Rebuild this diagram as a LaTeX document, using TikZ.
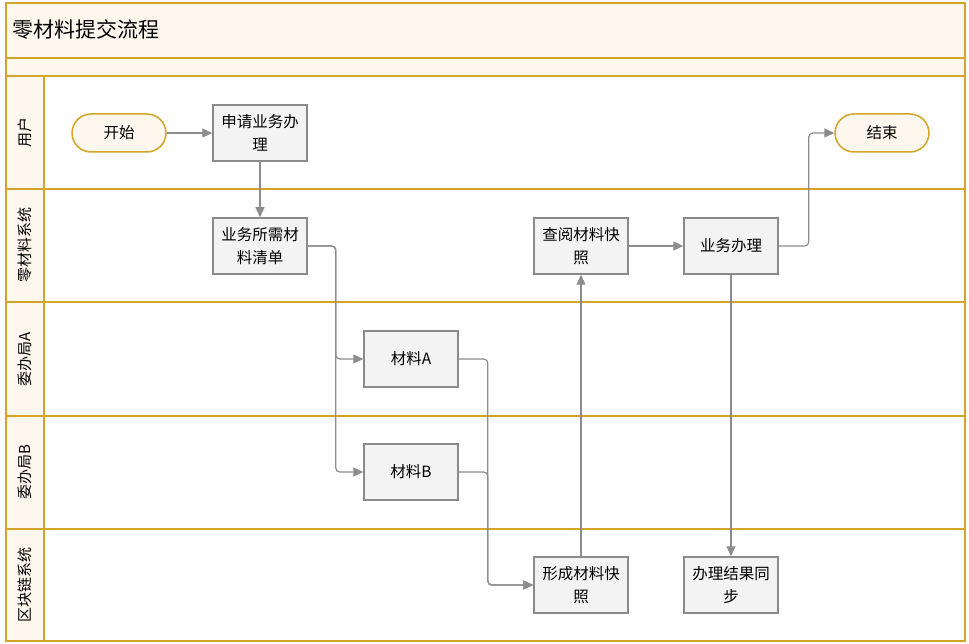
\documentclass[tikz,border=0pt]{standalone}
\usepackage{fontspec}
\setmainfont{Noto Sans CJK SC}
\usetikzlibrary{arrows.meta}
\definecolor{gold}{HTML}{D4A52A}
\definecolor{cream}{HTML}{FDF7EE}
\definecolor{boxfill}{HTML}{F3F3F3}
\definecolor{boxline}{HTML}{8A8A8A}
\definecolor{arr}{HTML}{8C8C8C}
\tikzset{
  stepbox/.style={draw=boxline, fill=boxfill, line width=1.5pt, minimum width=94pt, minimum height=56pt, inner sep=0pt, align=center, font=\fontsize{15.5}{23}\selectfont},
  pill/.style={draw=gold, fill=cream, line width=1.5pt, rounded corners=19pt, minimum width=94pt, minimum height=38pt, inner sep=0pt, font=\fontsize{15.5}{23}\selectfont},
  conn/.style={draw=arr, line width=1.2pt, rounded corners=4pt, -{Triangle[length=10pt,width=9pt]}},
  lanelabel/.style={rotate=90, font=\fontsize{15}{18}\selectfont, inner sep=0pt},
  laneline/.style={draw=gold, line width=2pt}
}
\begin{document}
\begin{tikzpicture}[x=1pt,y=-1pt]
\useasboundingbox (0,0) rectangle (969,644);
% bands
\fill[cream] (6,3) rectangle (965,76);
\fill[cream] (6,76) rectangle (44,641);
\fill[white] (44,76) rectangle (965,641);
\draw[laneline] (6,3) rectangle (965,641);
\foreach \yy in {58,76,189,302,416,529} \draw[laneline] (6,\yy) -- (965,\yy);
\draw[laneline] (44,76) -- (44,641);
\node[anchor=west, font=\fontsize{21}{24}\selectfont, inner sep=0pt] (title) at (12,30) {零材料提交流程};
\node[lanelabel] (l1) at (25,132.5) {用户};
\node[lanelabel] (l2) at (25,245.5) {零材料系统};
\node[lanelabel] (l3) at (25,359) {委办局A};
\node[lanelabel] (l4) at (25,472.5) {委办局B};
\node[lanelabel] (l5) at (25,585) {区块链系统};
% nodes
\node[pill] (start) at (119,133) {开始};
\node[stepbox] (apply) at (260,133) {申请业务办\\理};
\node[pill] (end) at (882,133) {结束};
\node[stepbox] (list) at (260,246) {业务所需材\\料清单};
\node[stepbox] (view) at (581,246) {查阅材料快\\照};
\node[stepbox] (biz) at (731,246) {业务办理};
\node[stepbox] (ma) at (411,359) {材料A};
\node[stepbox] (mb) at (411,472) {材料B};
\node[stepbox] (snap) at (581,585) {形成材料快\\照};
\node[stepbox] (sync) at (731,585) {办理结果同\\步};
% connectors
\draw[conn] (start) -- (apply);
\draw[conn] (apply) -- (list);
\draw[conn] (list.east) -- ++(28,0) |- (ma.west);
\draw[conn] (list.east) -- ++(28,0) |- (mb.west);
\draw[conn] (ma.east) -- ++(29,0) |- (snap.west);
\draw[conn] (mb.east) -- ++(29,0) |- (snap.west);
\draw[conn] (snap) -- (view);
\draw[conn] (view) -- (biz);
\draw[conn] (biz.east) -- ++(30,0) |- (end.west);
\draw[conn] (biz) -- (sync);
\end{tikzpicture}
\end{document}
